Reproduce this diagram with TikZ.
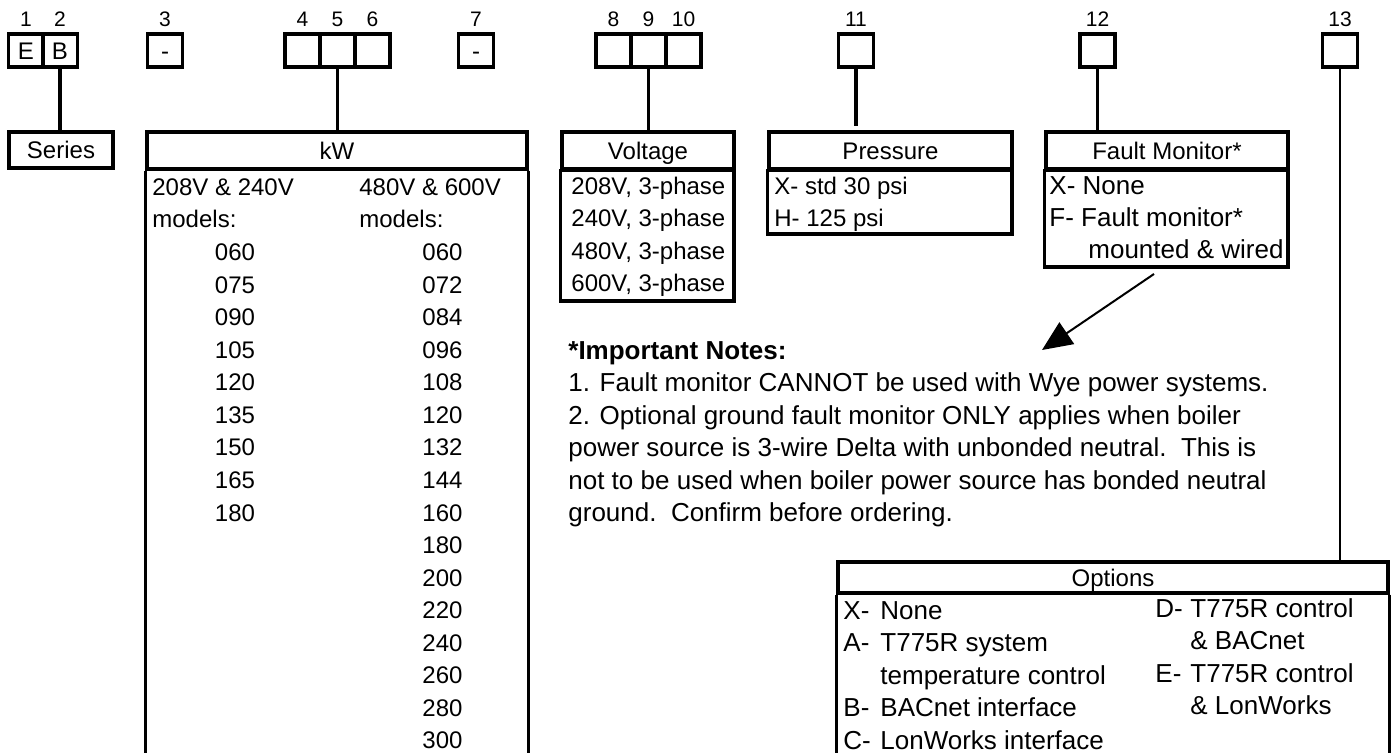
\documentclass[tikz,border=0pt]{standalone}
\usepackage{fontspec}
\setmainfont{Liberation Sans}
\usepackage{tikz}
\usetikzlibrary{arrows.meta, positioning}

\begin{document}
\begin{tikzpicture}[x=0.5pt, y=-0.5pt,
    wire/.style={line width=1.6pt},
    cell/.style={draw, line width=1.6pt, minimum width=17.5pt, minimum height=16.5pt, inner sep=0pt, text height=8.6pt, text depth=0pt, font=\fontsize{12}{14}\selectfont},
    digit/.style={inner sep=0pt, font=\fontsize{10.5}{12}\selectfont},
    head/.style={draw, line width=1.6pt, minimum height=18.5pt, inner sep=0pt, text height=8.6pt, text depth=0pt, font=\fontsize{12}{14}\selectfont},
    txt/.style={anchor=base west, inner sep=0pt, font=\fontsize{12}{14}\selectfont},
    num/.style={anchor=base, inner sep=0pt, font=\fontsize{12}{14}\selectfont},
    big/.style={anchor=base west, inner sep=0pt, font=\fontsize{13}{15}\selectfont}]
    \clip (0,0) rectangle (1392,753);

    % Code boxes
    \node[cell] (c1) at (26,50.5) {E};
    \node[cell] (c2) at (60,50.5) {B};
    \node[cell] (c3) at (165,50.5) {-};
    \node[cell] (c4) at (302.5,50.5) {};
    \node[cell] (c5) at (337.5,50.5) {};
    \node[cell] (c6) at (372.5,50.5) {};
    \node[cell] (c7) at (476,50.5) {-};
    \node[cell] (c8) at (613.5,50.5) {};
    \node[cell] (c9) at (648.5,50.5) {};
    \node[cell] (c10) at (683.5,50.5) {};
    \node[cell] (c11) at (856,50.5) {};
    \node[cell] (c12) at (1097.5,50.5) {};
    \node[cell] (c13) at (1340,50.5) {};
    \foreach \i in {1,...,13} \node[digit, above=2.5pt of c\i] (d\i) {\i};

    % Series
    \node[head, minimum width=52pt, minimum height=18pt] (series) at (61,150) {Series};
    \draw[wire] (c2.south) -- (c2.south |- series.north);

    % kW
    \node[head, minimum width=190pt] (kw) at (337,150.5) {kW};
    \draw[wire] (kw.south west) -- ++(0,650) (kw.south east) -- ++(0,650);
    \draw[wire] (c5.south) -- (c5.south |- kw.north);
    \node[txt] (kwa) at (152,195.5) {208V \& 240V};
    \node[txt] (kwb) at (152,228) {models:};
    \node[txt] (kwc) at (359,195.5) {480V \& 600V};
    \node[txt] (kwd) at (359,228) {models:};
    \foreach \v [count=\i from 2] in {060,075,090,105,120,135,150,165,180}
        \node[num] (kwl\i) at (235,195.5+32.55*\i) {\v};
    \foreach \v [count=\i from 2] in {060,072,084,096,108,120,132,144,160,180,200,220,240,260,280,300}
        \node[num] (kwr\i) at (442.5,195.5+32.55*\i) {\v};

    % Voltage
    \node[head, minimum width=86pt] (volt) at (648,150.5) {Voltage};
    \draw[wire] (volt.south west) rectangle (734,301);
    \draw[wire] (c9.south) -- (c9.south |- volt.north);
    \foreach \v [count=\i from 0] in {208V, 240V, 480V, 600V}
        \node[txt] (volt\i) at (571,194.5+32.4*\i) {\v, 3-phase};

    % Pressure
    \node[head, minimum width=121.5pt] (press) at (890.5,150.5) {Pressure};
    \draw[wire] (press.south west) rectangle (1012,234);
    \draw[wire] (c11.south) -- ([yshift=2pt]c11.south |- press.north);
    \node[txt] (pressx) at (774,194.5) {X- std 30 psi};
    \node[txt] (pressh) at (774,226.9) {H- 125 psi};

    % Fault monitor
    \node[head, minimum width=121pt] (fault) at (1167,150.5) {Fault Monitor*};
    \draw[wire] (fault.south west) rectangle (1288,267);
    \draw[wire] (c12.south) -- (c12.south |- fault.north);
    \node[big] (faultx) at (1049,194.3) {X- None};
    \node[big] (faultf) at (1049,226.5) {F- Fault monitor*};
    \node[big] (faultm) at (1088,258.5) {mounted \& wired};
    \coordinate (arrowstart) at (1154,274);
    \coordinate (arrowtip) at (1042,350);
    \draw[line width=1pt, -{Triangle[length=15pt, width=13pt]}] (arrowstart) -- (arrowtip);

    % Notes
    \node[big, font=\fontsize{13}{15}\selectfont\bfseries] (note0) at (568,359.3) {*Important Notes:};
    \foreach \t [count=\i] in {1. Fault monitor CANNOT be used with Wye power systems.,
        2. Optional ground fault monitor ONLY applies when boiler,
        power source is 3-wire Delta with unbonded neutral.\ \ This is,
        not to be used when boiler power source has bonded neutral,
        ground.\ \ Confirm before ordering.}
        \node[big] (note\i) at (568,359.3+32.45*\i) {\t};

    % Options
    \node[head, minimum width=275pt, minimum height=15.5pt] (opt) at (1113,577.5) {Options};
    \draw[wire] (opt.south west) -- ++(0,300) (opt.south east) -- ++(0,300);
    \draw[line width=1pt] (c13.south) -- (c13.south |- opt.north);
    \foreach \k/\t [count=\i from 0] in {X-/None, A-/T775R system, /temperature control, B-/BACnet interface, C-/LonWorks interface}{
        \node[big] (optk\i) at (843,619.3+32.5*\i) {\k};
        \node[big] (optt\i) at (880,619.3+32.5*\i) {\t};
    }
    \foreach \k/\t [count=\i from 0] in {D-/T775R control, /\& BACnet, E-/T775R control, /\& LonWorks}{
        \node[big] (optd\i) at (1155,617.3+32.5*\i) {\k};
        \node[big] (opte\i) at (1190,617.3+32.5*\i) {\t};
    }
\end{tikzpicture}
\end{document}
